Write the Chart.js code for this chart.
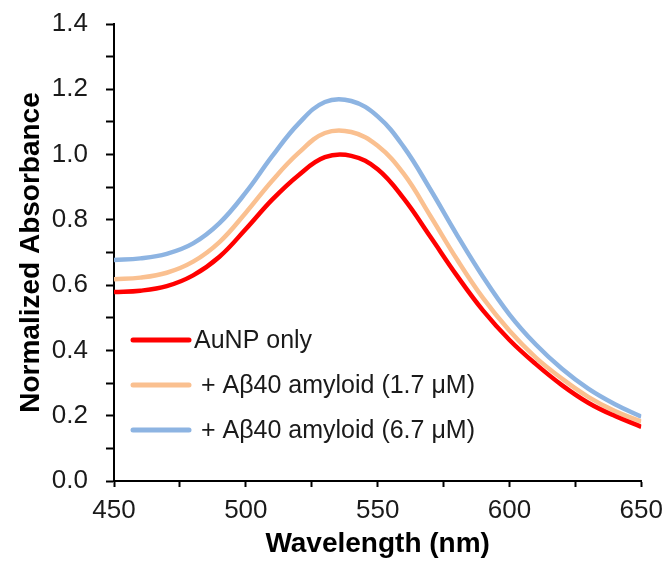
<!DOCTYPE html>
<html>
<head>
<meta charset="utf-8">
<script src="https://cdn.jsdelivr.net/npm/chart.js@4"></script>
<style>
  html, body { margin: 0; padding: 0; background: #fff; }
  #wrap { width: 671px; height: 573px; }
</style>
</head>
<body>
<div id="wrap"><canvas id="absChart" width="671" height="573"></canvas></div>
<script>
// wavelength (nm) and normalized absorbance
const wavelengths = [450, 460, 470, 480, 490, 500, 510, 520, 530, 540, 550, 560, 570, 580, 590, 600, 610, 620, 630, 640, 650];
const auOnly   = [0.579, 0.583, 0.597, 0.630, 0.687, 0.772, 0.862, 0.937, 0.992, 0.996, 0.955, 0.864, 0.748, 0.630, 0.522, 0.432, 0.358, 0.293, 0.239, 0.199, 0.166];
const abeta17  = [0.618, 0.623, 0.638, 0.672, 0.732, 0.822, 0.920, 1.005, 1.066, 1.069, 1.027, 0.940, 0.812, 0.680, 0.560, 0.460, 0.378, 0.313, 0.257, 0.214, 0.182];
const abeta67  = [0.677, 0.682, 0.696, 0.728, 0.790, 0.884, 0.995, 1.095, 1.161, 1.164, 1.117, 1.022, 0.893, 0.755, 0.625, 0.510, 0.418, 0.343, 0.282, 0.235, 0.197];
const seriesLabels = ['AuNP only', ' + A\u03b240 amyloid (1.7 \u03bcM)', ' + A\u03b240 amyloid (6.7 \u03bcM)'];
const seriesColors = ['#ff0000', '#fac090', '#8db4e2'];
const xTitle = 'Wavelength (nm)';
const yTitle = 'Normalized Absorbance';

const toPoints = (ys) => ys.map((y, i) => ({ x: wavelengths[i], y: y }));
const allSeries = [auOnly, abeta17, abeta67];

const ctx = document.getElementById('absChart').getContext('2d');

// legend drawn inside the plot, like the original
const insideLegend = {
  id: 'insideLegend',
  afterDraw(chart) {
    const c = chart.ctx;
    const rows = [340, 385, 430];
    c.save();
    chart.data.datasets.forEach((ds, i) => {
      const y = rows[i];
      c.strokeStyle = ds.borderColor;
      c.lineWidth = 5;
      c.lineCap = 'round';
      c.beginPath();
      c.moveTo(133, y);
      c.lineTo(189, y);
      c.stroke();
      c.fillStyle = '#1a1a1a';
      c.font = '25px "Liberation Sans", Arial, sans-serif';
      c.textBaseline = 'middle';
      c.textAlign = 'left';
      c.fillText(ds.label, 194, y + 1);
    });
    c.restore();
  }
};

const absChart = new Chart(ctx, {
  type: 'line',
  data: {
    datasets: allSeries.map((s, i) => ({
      label: seriesLabels[i],
      data: toPoints(s),
      borderColor: seriesColors[i],
      borderWidth: 4.5,
      pointRadius: 0,
      fill: false,
      tension: 0.4,
      order: i
    }))
  },
  options: {
    responsive: false,
    animation: false,
    layout: { padding: { top: 24, right: 28, left: 0, bottom: 0 } },
    plugins: {
      legend: { display: false },
      tooltip: { enabled: false }
    },
    scales: {
      x: {
        type: 'linear',
        min: 450,
        max: 650,
        afterFit(scale) { scale.height = 92; },
        border: { color: '#000', width: 2 },
        grid: { drawOnChartArea: false, drawTicks: true, tickLength: 6, tickColor: '#000', tickWidth: 2 },
        ticks: {
          stepSize: 25,
          autoSkip: false,
          maxRotation: 0,
          padding: 8,
          color: '#1a1a1a',
          font: { family: '"Liberation Sans", Arial, sans-serif', size: 26 },
          callback: (v) => (v % 50 === 0 ? String(v) : '')
        },
        title: {
          display: true,
          text: xTitle,
          color: '#000',
          font: { family: '"Liberation Sans", Arial, sans-serif', size: 28, weight: 'bold' },
          padding: { top: 0, bottom: 12 }
        }
      },
      y: {
        min: 0,
        max: 1.4,
        afterFit(scale) {
          scale.width = 114;
          // tick padding would otherwise push the plot down
          scale.paddingTop = 0;
          scale.paddingBottom = 0;
        },
        border: { color: '#000', width: 2 },
        grid: { drawOnChartArea: false, drawTicks: true, tickLength: 8, tickColor: '#000', tickWidth: 2 },
        ticks: {
          stepSize: 0.1,
          autoSkip: false,
          padding: 18,
          color: '#1a1a1a',
          font: { family: '"Liberation Sans", Arial, sans-serif', size: 26 },
          callback: (v, idx) => (idx % 2 === 0 ? v.toFixed(1) : '')
        },
        title: {
          display: true,
          text: yTitle,
          color: '#000',
          font: { family: '"Liberation Sans", Arial, sans-serif', size: 28, weight: 'bold' },
          padding: { top: 14, bottom: 0 }
        }
      }
    }
  },
  plugins: [insideLegend]
});
</script>
</body>
</html>
